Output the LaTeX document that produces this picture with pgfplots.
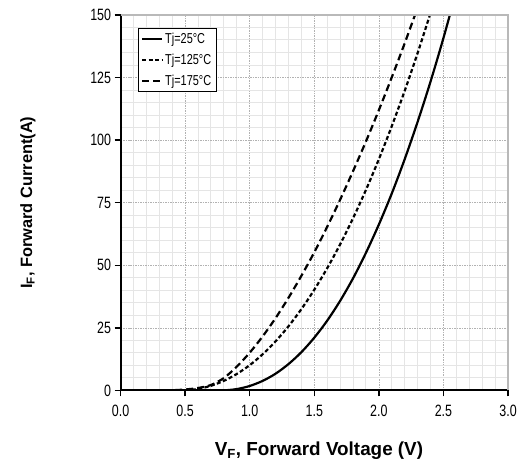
\documentclass[border=0pt]{standalone}
\usepackage{fontspec}
\setmainfont{Liberation Sans}
\newfontfamily\narrow[FakeStretch=0.76]{Liberation Sans}
\usepackage{pgfplots}
\pgfplotsset{compat=1.18}
\begin{document}
\begin{tikzpicture}[x=1bp,y=1bp]
\path (0,0) rectangle (520,466);
\begin{axis}[
  at={(121bp,74bp)}, anchor=south west,
  scale only axis, width=389bp, height=377bp,
  xmin=0, xmax=3, ymin=0, ymax=150,
  xtick={0,0.5,...,3}, ytick={0,25,...,150},
  minor x tick num=4, minor y tick num=4,
  minor tick length=0pt,
  major tick length=6bp, tick align=outside,
  tick style={black, line width=1.3bp},
  xticklabel style={font=\narrow\fontsize{16.5}{16.5}\selectfont, yshift=-5bp, /pgf/number format/fixed, /pgf/number format/fixed zerofill, /pgf/number format/precision=1},
  yticklabel style={font=\narrow\fontsize{16.5}{16.5}\selectfont, xshift=0bp},
  /pgf/number format/assume math mode=true,
  axis lines*=left,
  axis line style={black, line width=2bp, -},
  grid=both,
  major grid style={gray!60, dash pattern=on 1.5bp off 1bp, line width=0.6bp},
  minor grid style={gray!20, line width=1bp},
  xlabel={V\textsubscript{F}, Forward Voltage (V)},
  ylabel={I\textsubscript{F}, Forward Current(A)},
  every axis x label/.style={at={(axis description cs:0.512,-0.159)}, anchor=center, font=\bfseries\fontsize{19}{19}\selectfont},
  every axis y label/.style={at={(axis description cs:-0.239,0.5)}, anchor=center, rotate=90, font=\bfseries\fontsize{16.5}{16.5}\selectfont},
  legend style={at={(axis description cs:0.044,0.966)}, anchor=north west, draw=black, line width=1bp, fill=white, font=\narrow\fontsize{14.5}{14.5}\selectfont, row sep=5bp, inner sep=3bp},
  legend cell align=left,
  legend image code/.code={\draw[#1, line width=2.2bp] (0bp,0bp) -- (20bp,0bp);},
  after end axis/.code={\draw[gray!55, line width=1.2bp] (rel axis cs:0,1) -- (rel axis cs:1,1) -- (rel axis cs:1,0);},
  clip=true,
]
\addplot[black, line width=2.2bp, smooth] coordinates {
(0,0) (0.7,0) (0.8,0.05) (0.9,0.57) (1.0,1.8) (1.1,3.83) (1.2,6.7) (1.3,10.54) (1.4,15.3) (1.5,21.1) (1.6,27.9) (1.7,35.8) (1.8,44.8) (1.9,55.0) (2.0,66.3) (2.1,78.7) (2.2,92.4) (2.3,107.3) (2.4,123.4) (2.5,140.8) (2.6,159.5)
};
\addlegendentry{Tj=25°C}
\addplot[black, line width=2.2bp, dash pattern=on 4bp off 2.5bp, smooth] coordinates {
(0,0) (0.4,0) (0.5,0.06) (0.6,0.63) (0.7,1.88) (0.8,3.86) (0.9,6.6) (1.0,10.12) (1.1,14.46) (1.2,19.62) (1.3,25.63) (1.4,32.5) (1.5,40.24) (1.6,48.86) (1.7,58.37) (1.8,68.8) (1.9,80.13) (2.0,92.39) (2.1,105.6) (2.2,119.7) (2.3,134.8) (2.4,150.8) (2.45,159.2)
};
\addlegendentry{Tj=125°C}
\addplot[black, line width=2.2bp, dash pattern=on 7bp off 4bp, smooth] coordinates {
(0,0) (0.3,0) (0.4,0.1) (0.5,0.4) (0.6,1.0) (0.7,2.2) (0.8,4.98) (0.9,9.53) (1.0,15.1) (1.1,21.6) (1.2,28.9) (1.3,37.0) (1.4,45.8) (1.5,55.2) (1.6,65.4) (1.7,76.2) (1.8,87.6) (1.9,99.5) (2.0,112.0) (2.1,125.1) (2.2,138.7) (2.3,152.9)
};
\addlegendentry{Tj=175°C}
\end{axis}
\end{tikzpicture}
\end{document}
